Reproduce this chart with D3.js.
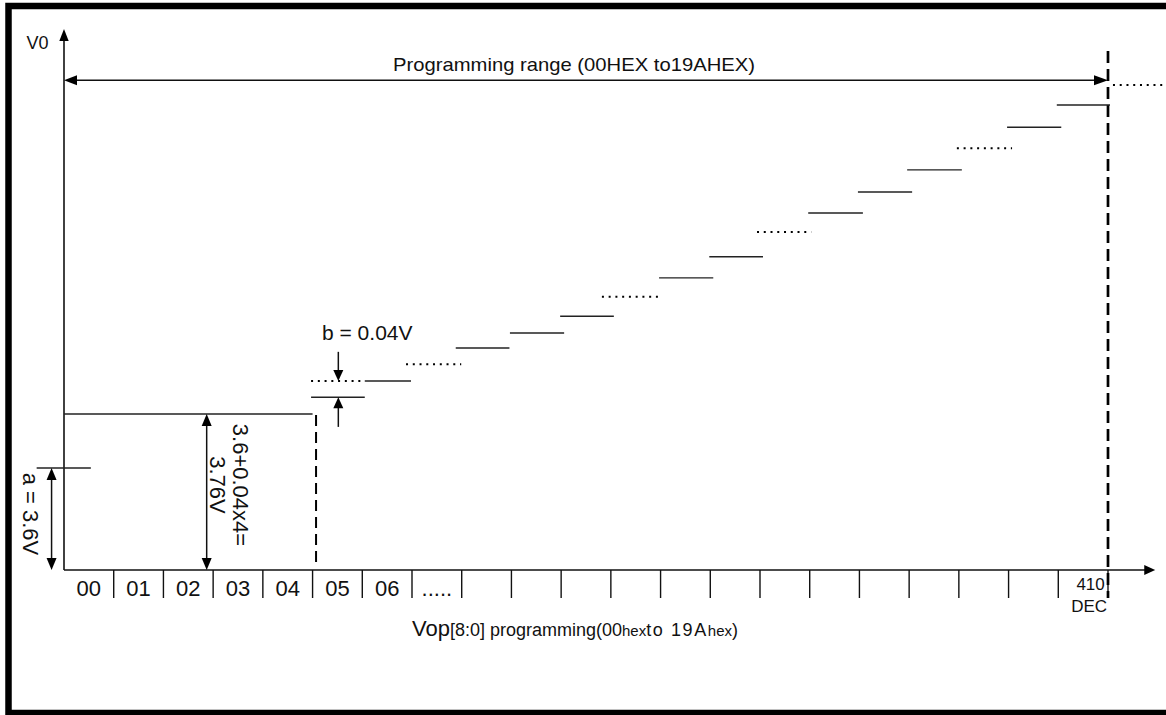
<!DOCTYPE html>
<html>
<head>
<meta charset="utf-8">
<script src="https://cdn.jsdelivr.net/npm/d3@7"></script>
<style>
  html, body { margin: 0; padding: 0; background: #fff; }
  svg { display: block; }
  text { font-family: "Liberation Sans", Arial, sans-serif; fill: #111; }
</style>
</head>
<body>
<svg id="chart" width="1166" height="715"></svg>
<script>
// ---------- data (schematic chart: x in cell units, y in arbitrary level units 0..100) ----------
const cellCount = 21;
const cellLabels = ["00", "01", "02", "03", "04", "05", "06", "....."];
const lastCellLabel = ["410", "DEC"];

// step segments: start cell, end cell, level, style
const stepStart = [-0.55, 0.00, 4.97, 4.97, 6.05, 6.88, 7.88, 8.97, 9.98, 10.82, 11.97, 12.98, 13.94, 14.97, 15.97, 16.96, 17.96, 18.97, 19.97, 21.10];
const stepEnd   = [ 0.54, 5.00, 6.05, 6.05, 6.98, 7.99, 8.96, 10.06, 11.06, 11.95, 13.06, 14.06, 15.03, 16.07, 17.06, 18.06, 19.07, 20.06, 21.04, 22.11];
const stepLevel = [18.9, 28.9, 32.0, 35.0, 35.0, 38.1, 41.1, 43.9, 47.0, 50.6, 54.1, 58.0, 62.6, 66.1, 70.0, 74.1, 78.1, 82.0, 86.1, 89.8];
const stepStyle = ["solid","solid","solid","dot","solid","dot","solid","solid","solid","dot","solid","solid","dot","solid","solid","solid","dot","solid","solid","dot"];

const levelA = 18.9;      // a = 3.6V
const levelStep4 = 28.9;  // 3.76V
const levelStep5 = 32.0;
const levelStep6 = 35.0;
const levelRange = 90.7;
const rangeEndCell = 21;
const dashedCell = 5.07;

const texts = {
  yTitle: "V0",
  range: "Programming range (00HEX to19AHEX)",
  b: "b = 0.04V",
  a: "a = 3.6V",
  sum1: "3.6+0.04x4=",
  sum2: "3.76V"
};

// ---------- scales ----------
const x = d3.scaleLinear().domain([0, cellCount]).range([64, 1108]);
const y = d3.scaleLinear().domain([0, 100]).range([570, 30]);

const svg = d3.select("#chart");
const ink = "#111";

// frame
svg.append("rect").attr("x", 8.5).attr("y", 6).attr("width", 1200).attr("height", 707)
  .attr("fill", "none").attr("stroke", "#000").attr("stroke-width", 6.5);

function line(x1, y1, x2, y2, opts = {}) {
  return svg.append("line").attr("x1", x1).attr("y1", y1).attr("x2", x2).attr("y2", y2)
    .attr("stroke", opts.color || ink).attr("stroke-width", opts.w || 1.4)
    .attr("stroke-dasharray", opts.dash || null);
}
function head(tx, ty, dir, len = 13, hw = 5) {
  let p;
  if (dir === "up") p = [[tx, ty], [tx - hw, ty + len], [tx + hw, ty + len]];
  if (dir === "down") p = [[tx, ty], [tx - hw, ty - len], [tx + hw, ty - len]];
  if (dir === "left") p = [[tx, ty], [tx + len, ty - hw], [tx + len, ty + hw]];
  if (dir === "right") p = [[tx, ty], [tx - len, ty - hw], [tx - len, ty + hw]];
  svg.append("path").attr("d", "M" + p.map(d => d.join(",")).join("L") + "Z").attr("fill", "#000");
}

// ---------- axes ----------
line(x(0), y(0), x(0), y(100.2) + 4, { w: 1.6 });
head(x(0), y(100.2), "up", 12, 4.7);
svg.append("text").attr("x", 26.5).attr("y", 49).attr("font-size", 18).text(texts.yTitle);

line(x(0), y(0), x(21.95) - 4, y(0), { w: 1.6 });
head(x(21.95), y(0), "right", 11, 5);

// ticks
const tickBottom = 598;
svg.append("g").selectAll("line").data(d3.range(1, cellCount + 1)).join("line")
  .attr("x1", d => x(d)).attr("x2", d => x(d)).attr("y1", y(0)).attr("y2", tickBottom)
  .attr("stroke", ink).attr("stroke-width", 1.4);

// cell labels
svg.append("g").selectAll("text").data(cellLabels).join("text")
  .attr("x", (d, i) => x(i + 0.5)).attr("y", 596).attr("text-anchor", "middle")
  .attr("font-size", 22).text(d => d);

svg.append("text").attr("x", x(20.65)).attr("y", 590).attr("text-anchor", "middle").attr("font-size", 17).text(lastCellLabel[0]);
svg.append("text").attr("x", x(20.62)).attr("y", 612).attr("text-anchor", "middle").attr("font-size", 17).text(lastCellLabel[1]);

// x title
const xt = svg.append("text").attr("x", 412).attr("y", 636).attr("font-size", 18);
xt.append("tspan").attr("font-size", 22).text("Vop");
xt.append("tspan").text("[8:0] programming(00");
xt.append("tspan").attr("font-size", 15).text("hex");
xt.append("tspan").attr("textLength", 60).attr("lengthAdjust", "spacing").text("to 19A");
xt.append("tspan").attr("font-size", 15).text("hex");
xt.append("tspan").text(")");

// ---------- programming range arrow ----------
line(x(0) + 8, y(levelRange), x(rangeEndCell) - 8, y(levelRange), { w: 1.5 });
head(x(0), y(levelRange), "left", 13, 5);
head(x(rangeEndCell), y(levelRange), "right", 14, 5);
svg.append("text").attr("x", 393).attr("y", 71).attr("font-size", 19)
  .attr("textLength", 362).attr("lengthAdjust", "spacingAndGlyphs").text(texts.range);

// dashed vertical at range end
line(x(rangeEndCell), y(96.1), x(rangeEndCell), tickBottom, { w: 2.7, dash: "12,6", color: "#000" });
// dashed vertical after 04
line(x(dashedCell), y(28.7), x(dashedCell), y(0.4), { w: 2, dash: "11,6", color: "#000" });

// ---------- steps ----------
const steps = stepStart.map((s, i) => ({ s, e: stepEnd[i], l: stepLevel[i], st: stepStyle[i] }));
svg.append("g").selectAll("line").data(steps).join("line")
  .attr("x1", d => x(d.s)).attr("x2", d => x(d.e))
  .attr("y1", d => y(d.l)).attr("y2", d => y(d.l))
  .attr("stroke", d => d.st === "dot" ? "#000" : "#222")
  .attr("stroke-width", d => d.st === "dot" ? 2 : 1.4)
  .attr("stroke-dasharray", d => d.st === "dot" ? "2,4.75" : null);

// ---------- annotation arrows ----------
// a = 3.6V
const ax = x(-0.25);
line(ax, y(0) - 10, ax, y(levelA) + 10, { w: 1.5 });
head(ax, y(levelA), "up", 12, 5);
head(ax, y(0), "down", 12, 5);
svg.append("text").attr("transform", `translate(22.5,${514}) rotate(90)`)
  .attr("text-anchor", "middle").attr("font-size", 22).text(texts.a);

// 3.76V
const sx = x(2.87);
line(sx, y(0) - 10, sx, y(levelStep4) + 10, { w: 1.5 });
head(sx, y(levelStep4), "up", 12, 5);
head(sx, y(0), "down", 12, 5);
svg.append("text").attr("transform", `translate(233,${485}) rotate(90)`)
  .attr("text-anchor", "middle").attr("font-size", 22).text(texts.sum1);
svg.append("text").attr("transform", `translate(209.5,${485}) rotate(90)`)
  .attr("text-anchor", "middle").attr("font-size", 22).text(texts.sum2);

// b = 0.04V
const bx = x(5.518);
line(bx, y(40.4), bx, y(levelStep6) - 8, { w: 1.5 });
head(bx, y(levelStep6), "down", 11, 5);
line(bx, y(26.5), bx, y(levelStep5) + 8, { w: 1.5 });
head(bx, y(levelStep5), "up", 11, 5);
svg.append("text").attr("x", 322).attr("y", 340).attr("font-size", 21).text(texts.b);
</script>
</body>
</html>
